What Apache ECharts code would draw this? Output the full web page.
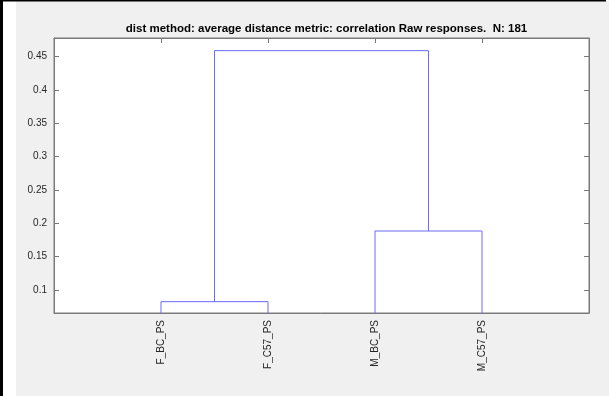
<!DOCTYPE html>
<html>
<head>
<meta charset="utf-8">
<script src="https://cdn.jsdelivr.net/npm/echarts@6/dist/echarts.min.js"></script>
<style>html,body{margin:0;padding:0;background:#fff}#c{width:612px;height:396px}</style>
</head>
<body>
<div id="c"></div>
<script>
// Leaves (left to right) and their x positions
const leafLabels = ['F_BC_PS', 'F_C57_PS', 'M_BC_PS', 'M_C57_PS'];
const leafPositions = [1, 2, 3, 4];
// Linkage: left node, right node, height; nodes 0..3 are leaves, 4.. are merges
const linkLeft = [0, 2, 4];
const linkRight = [1, 3, 5];
const linkHeight = [0.0825, 0.1885, 0.459];
// Y axis range and tick labels
const yTickLabels = ['0.1', '0.15', '0.2', '0.25', '0.3', '0.35', '0.4', '0.45'];
const yMin = 0.0655, yMax = 0.478;
const titleText = 'dist method: average distance metric: correlation Raw responses.  N: 181';

// Build U-shaped link segments
const nodeX = leafPositions.slice();
const nodeY = leafPositions.map(() => 0);
const series = [];
for (let i = 0; i < linkHeight.length; i++) {
  const a = linkLeft[i], b = linkRight[i], h = linkHeight[i];
  series.push({
    type: 'line', xAxisIndex: 0, yAxisIndex: 0, symbol: 'none', silent: true,
    clip: true, animation: false,
    lineStyle: { color: '#6a6aff', width: 1 },
    data: [[nodeX[a], nodeY[a]], [nodeX[a], h], [nodeX[b], h], [nodeX[b], nodeY[b]]]
  });
  nodeX.push((nodeX[a] + nodeX[b]) / 2);
  nodeY.push(h);
}

const axisColor = '#7a7a7a';
const fontFam = 'Liberation Sans, Arial, sans-serif';
const yLabelFmt = v => { const s = String(+v.toFixed(2)); return yTickLabels.indexOf(s) >= 0 ? s : ''; };
const tickStyle = { show: true, inside: true, length: 5, lineStyle: { color: axisColor } };
const lineStyleAx = { show: true, onZero: false, lineStyle: { color: axisColor } };

const chart = echarts.init(document.getElementById('c'));
chart.setOption({
  backgroundColor: '#ffffff',
  animation: false,
  graphic: [
    { type: 'rect', z: -10, shape: { x: 16, y: 1, width: 593, height: 395 }, style: { fill: '#f0f0f0' } },
    { type: 'rect', z: -9, shape: { x: 0, y: 0, width: 3, height: 396 }, style: { fill: '#000' } },
    { type: 'rect', z: -9, shape: { x: 0, y: 0, width: 606, height: 1.5 }, style: { fill: '#000' } }
  ],
  title: {
    text: titleText, left: 321.5, textAlign: 'center', top: 18,
    textStyle: { fontFamily: fontFam, fontWeight: 'bold', fontSize: 11.5, color: '#000' }
  },
  grid: { left: 54, top: 38, right: 23, bottom: 83, show: true, backgroundColor: '#fff', borderColor: axisColor, borderWidth: 1 },
  xAxis: [{
    type: 'value', min: 0, max: 5, interval: 1, position: 'bottom',
    axisLine: lineStyleAx, axisTick: { show: false }, splitLine: { show: false },
    axisLabel: {
      rotate: 90, margin: 7, color: '#262626', fontSize: 10, fontFamily: fontFam,
      formatter: v => { const i = leafPositions.indexOf(v); return i >= 0 ? leafLabels[i] : ''; }
    }
  }, {
    type: 'value', min: 0, max: 5, interval: 1, position: 'top',
    axisLine: lineStyleAx, axisTick: tickStyle,
    axisLabel: { show: false }, splitLine: { show: false }
  }],
  yAxis: [{
    type: 'value', min: yMin, max: yMax, splitNumber: 8, position: 'left',
    axisLine: lineStyleAx, axisTick: tickStyle,
    axisLabel: { color: '#262626', fontSize: 10, margin: 7, fontFamily: fontFam,
      showMinLabel: false, showMaxLabel: false, formatter: yLabelFmt },
    splitLine: { show: false }
  }, {
    type: 'value', min: yMin, max: yMax, splitNumber: 8, position: 'right',
    axisLine: lineStyleAx, axisTick: tickStyle,
    axisLabel: { show: false }, splitLine: { show: false }
  }],
  series: series
});
</script>
</body>
</html>
